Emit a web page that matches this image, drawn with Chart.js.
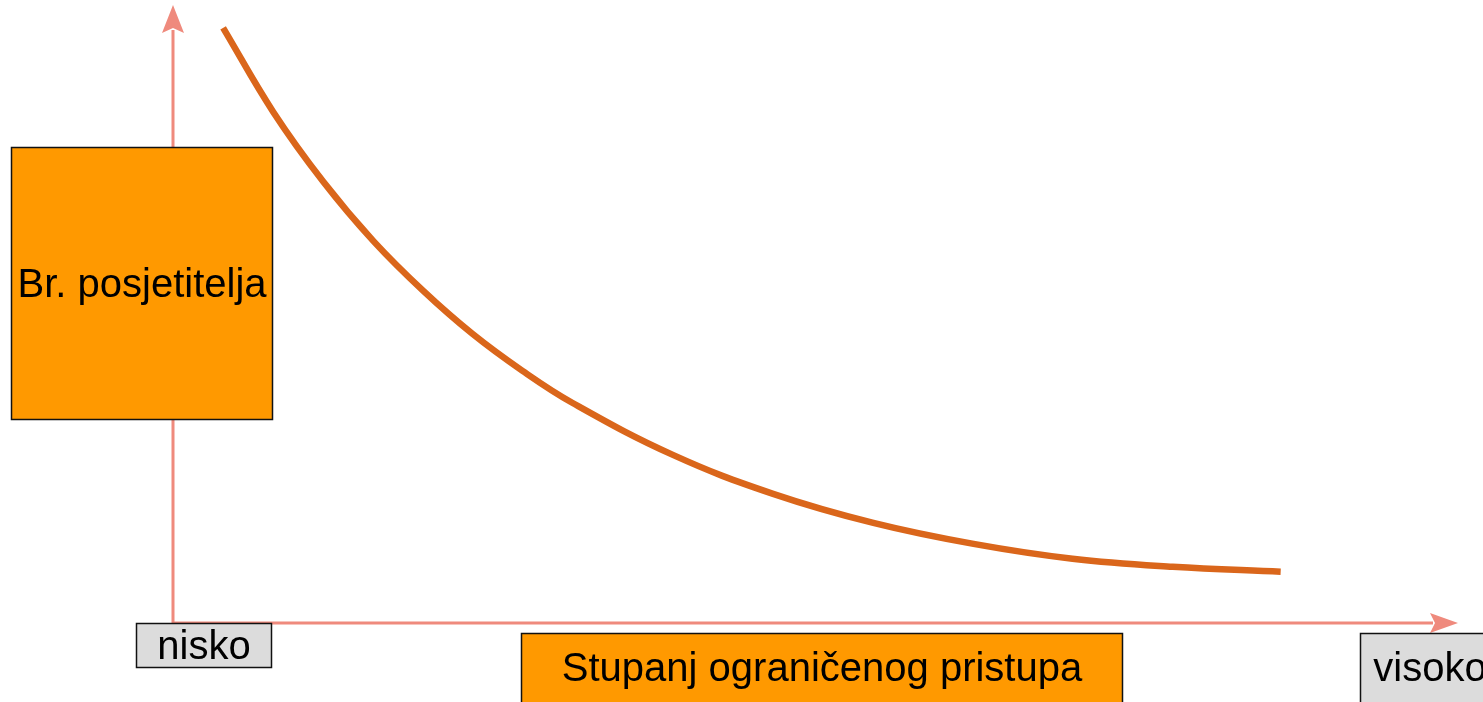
<!DOCTYPE html>
<html>
<head>
<meta charset="utf-8">
<script src="https://cdn.jsdelivr.net/npm/chart.js@4.4.1/dist/chart.umd.min.js"></script>
<style>
  html, body { margin: 0; padding: 0; background: #fff; }
  #wrap { width: 1483px; height: 702px; }
</style>
</head>
<body>
<div id="wrap"><canvas id="curve" width="1483" height="702"></canvas></div>
<script>
// stupanj ograničenog pristupa (0-100) i broj posjetitelja (0-100), očitano sa slike
const pristup = [3.9, 7.8, 11.7, 15.6, 19.5, 23.3, 27.2, 31.1, 38.9, 46.7, 54.5, 62.3, 70.0, 77.8, 86.2];
const posjetitelji = [96.3, 82.7, 71.4, 61.8, 53.7, 46.8, 40.8, 35.6, 27.2, 20.9, 16.2, 12.8, 10.4, 9.1, 8.3];

const yLabel = 'Br. posjetitelja';
const xLabel = 'Stupanj ograničenog pristupa';
const lowLabel = 'nisko';
const highLabel = 'visoko';

const axisColor = '#EF8A7D';
const FONT = '40px "Liberation Sans", Arial, sans-serif';

function arrow(ctx, tipX, tipY, dir) {
    // dir: 'up' ili 'right'
    ctx.save();
    ctx.fillStyle = axisColor;
    ctx.beginPath();
    if (dir === 'up') {
        ctx.moveTo(tipX, tipY);
        ctx.lineTo(tipX + 11, tipY + 28);
        ctx.lineTo(tipX, tipY + 23);
        ctx.lineTo(tipX - 11, tipY + 28);
    } else {
        ctx.moveTo(tipX, tipY);
        ctx.lineTo(tipX - 28, tipY - 10);
        ctx.lineTo(tipX - 23, tipY);
        ctx.lineTo(tipX - 28, tipY + 10);
    }
    ctx.closePath();
    ctx.fill();
    ctx.restore();
}

function labelBox(ctx, x, y, w, h, fill, text, textY) {
    ctx.save();
    ctx.fillStyle = fill;
    ctx.fillRect(x, y, w, h);
    ctx.strokeStyle = '#111';
    ctx.lineWidth = 1.5;
    ctx.strokeRect(x + 0.5, y + 0.5, w - 1, h - 1);
    ctx.fillStyle = '#000';
    ctx.font = FONT;
    ctx.textAlign = 'center';
    ctx.textBaseline = 'middle';
    ctx.fillText(text, x + w / 2, textY !== undefined ? textY : y + h / 2 + 2);
    ctx.restore();
}

const axesPlugin = {
    id: 'axesArrows',
    beforeDatasetsDraw(chart) {
        const ctx = chart.ctx;
        const xs = chart.scales.x, ys = chart.scales.y;
        const x0 = xs.getPixelForValue(0), x1 = xs.getPixelForValue(100);
        const y0 = ys.getPixelForValue(0), y1 = ys.getPixelForValue(100);
        ctx.save();
        ctx.strokeStyle = axisColor;
        ctx.lineWidth = 3;
        ctx.beginPath();
        ctx.moveTo(x0, y0);
        ctx.lineTo(x0, y1 + 25);
        ctx.moveTo(x0, y0);
        ctx.lineTo(x1 - 25, y0);
        ctx.stroke();
        ctx.restore();
        arrow(ctx, x0, y1, 'up');
        arrow(ctx, x1, y0, 'right');
    },
    afterDatasetsDraw(chart) {
        const ctx = chart.ctx;
        const xs = chart.scales.x, ys = chart.scales.y;
        const x0 = xs.getPixelForValue(0), y0 = ys.getPixelForValue(0);
        labelBox(ctx, 11, 147, 262, 273, '#FF9900', yLabel);
        labelBox(ctx, x0 - 37, y0, 136, 45, '#DCDCDC', lowLabel);
        labelBox(ctx, 521, y0 + 10, 602, 80, '#FF9900', xLabel, y0 + 10 + 37);
        labelBox(ctx, 1360, y0 + 10, 140, 80, '#DCDCDC', highLabel, y0 + 10 + 37);
    }
};

new Chart(document.getElementById('curve'), {
    type: 'line',
    data: {
        datasets: [{
            data: pristup.map((v, i) => ({ x: v, y: posjetitelji[i] })),
            borderColor: '#DA661B',
            borderWidth: 6.5,
            borderCapStyle: 'butt',
            pointRadius: 0,
            fill: false,
            tension: 0.4
        }]
    },
    options: {
        responsive: false,
        animation: false,
        layout: { padding: { left: 173, right: 25, top: 5, bottom: 79 } },
        plugins: { legend: { display: false }, tooltip: { enabled: false } },
        scales: {
            x: { type: 'linear', min: 0, max: 100, display: false },
            y: { type: 'linear', min: 0, max: 100, display: false }
        }
    },
    plugins: [axesPlugin]
});
</script>
</body>
</html>
